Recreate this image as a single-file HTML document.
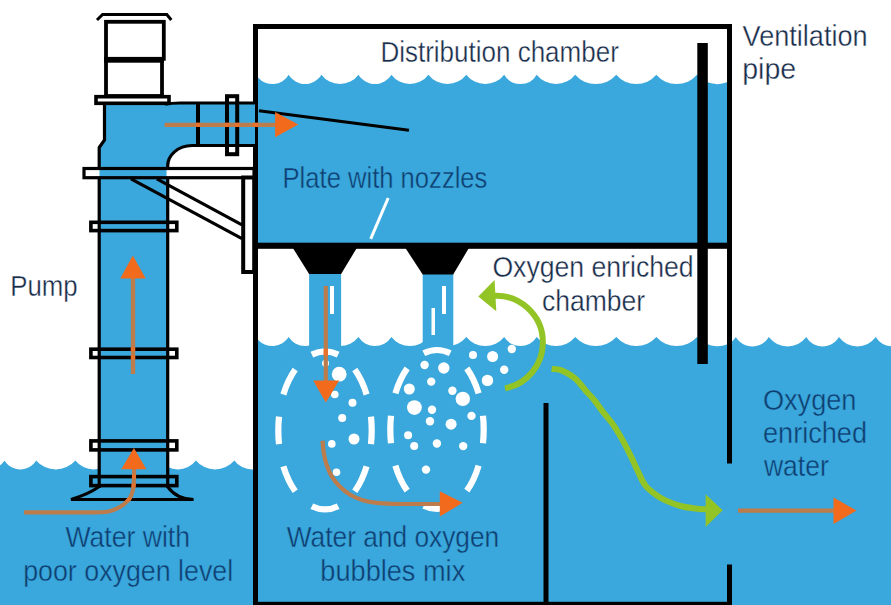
<!DOCTYPE html>
<html><head><meta charset="utf-8"><style>
html,body{margin:0;padding:0;background:#fff;}
svg{display:block;}
text{font-family:"Liberation Sans",sans-serif;}
</style></head><body>
<svg width="891" height="605" viewBox="0 0 891 605">
<rect x="0" y="0" width="891" height="605" fill="#fff"/>
<path d="M258,243 L258.00,77.51 A18.92,18.92 0 0 0 288.70,74.70 A18.92,18.92 0 0 0 321.40,74.70 A23.00,23.00 0 0 0 358.50,74.70 A19.09,19.09 0 0 0 391.40,74.70 A22.90,22.90 0 0 0 428.40,74.70 A23.80,23.80 0 0 0 466.30,74.70 A23.80,23.80 0 0 0 504.20,74.70 A18.75,18.75 0 0 0 536.70,74.70 A24.41,24.41 0 0 0 575.20,74.70 A27.16,27.16 0 0 0 616.30,74.70 A25.98,25.98 0 0 0 656.30,74.70 A26.73,26.73 0 0 0 697.00,74.70 A26.73,26.73 0 0 0 727.50,82.10 L727.50,243 Z" fill="#3aa8dc"/>
<path d="M258,605 L258.00,339.73 A19.35,19.35 0 0 0 288.70,337.10 A19.35,19.35 0 0 0 321.40,337.10 A23.62,23.62 0 0 0 358.50,337.10 A19.53,19.53 0 0 0 391.40,337.10 A23.51,23.51 0 0 0 428.40,337.10 A24.45,24.45 0 0 0 466.30,337.10 A24.45,24.45 0 0 0 504.20,337.10 A19.17,19.17 0 0 0 536.70,337.10 A25.09,25.09 0 0 0 575.20,337.10 A27.96,27.96 0 0 0 616.30,337.10 A26.72,26.72 0 0 0 656.30,337.10 A27.51,27.51 0 0 0 697.00,337.10 A27.51,27.51 0 0 0 727.50,344.16 L727.50,605 Z" fill="#3aa8dc"/>
<path d="M727,605 L727.00,344.80 A19.29,19.29 0 0 0 735.80,337.10 A19.29,19.29 0 0 0 768.80,337.10 A23.55,23.55 0 0 0 806.30,337.10 A18.93,18.93 0 0 0 838.90,337.10 A22.95,22.95 0 0 0 875.80,337.10 A19.47,19.47 0 0 0 909.00,337.10 L891.00,605 Z" fill="#3aa8dc"/>
<path d="M0,605 L0.00,465.51 A18.37,18.37 0 0 0 4.50,460.40 A18.37,18.37 0 0 0 36.10,460.40 A25.95,25.95 0 0 0 75.40,460.40 A23.10,23.10 0 0 0 112.00,460.40 A19.62,19.62 0 0 0 145.00,460.40 A7.62,7.62 0 0 0 160.00,460.40 A22.40,22.40 0 0 0 195.90,460.40 A24.98,24.98 0 0 0 234.30,460.40 A22.20,22.20 0 0 0 270.00,460.40 L255.00,605 Z" fill="#3aa8dc"/>
<rect x="309.1" y="273" width="32" height="80" fill="#3aa8dc"/>
<rect x="422.7" y="273" width="30.6" height="80" fill="#3aa8dc"/>
<rect x="330" y="286" width="4" height="28" fill="#fff"/>
<rect x="442" y="286" width="4" height="28" fill="#fff"/>
<rect x="431.5" y="308" width="3.5" height="27" fill="#fff"/>
<rect x="255" y="242.7" width="475" height="6.1" fill="#000"/>
<polygon points="292.9,248 356.8,248 341.1,273.9 309.1,273.9" fill="#000"/>
<polygon points="405.4,248 468.9,248 453.2,274.5 422.7,274.5" fill="#000"/>
<rect x="253" y="24" width="479" height="5" fill="#000"/>
<rect x="253" y="24" width="5" height="581" fill="#000"/>
<rect x="727" y="24" width="5" height="439.5" fill="#000"/>
<rect x="727" y="564.5" width="5" height="41" fill="#000"/>
<rect x="253" y="601.8" width="479" height="4" fill="#000"/>
<rect x="543.5" y="403" width="5" height="202" fill="#000"/>
<rect x="697.3" y="43" width="10.5" height="321" fill="#000"/>
<line x1="259" y1="110.8" x2="409" y2="130.3" stroke="#000" stroke-width="3"/>
<line x1="388.2" y1="198" x2="370.7" y2="238.8" stroke="#fff" stroke-width="3"/>
<polyline points="97,20 102.6,14.5 166.8,14.5 171.3,20" fill="none" stroke="#000" stroke-width="3"/>
<rect x="106" y="21.8" width="57.8" height="37" fill="none" stroke="#000" stroke-width="3.8"/>
<rect x="106" y="60" width="56" height="36" fill="none" stroke="#000" stroke-width="3.8"/>
<rect x="104" y="57.2" width="60" height="5.5" fill="#000"/>
<path d="M104.5,104 L104.5,140 L99.2,147.5 L99.2,488 L167.7,488 L167.7,167 A24.4,20.6 0 0 1 192,145.5 L255,145.5 L255,103 L180,103 Q170,103 165,104.5 Z" fill="#3aa8dc"/>
<path d="M104.5,104 L104.5,140 L99.2,147.5 L99.2,488" fill="none" stroke="#000" stroke-width="3.2"/>
<path d="M167.7,488 L167.7,167 A24.4,20.6 0 0 1 192,145.5 L255,145.5" fill="none" stroke="#000" stroke-width="3.2"/>
<path d="M165,104.5 Q170,103 180,103 L255,103" fill="none" stroke="#000" stroke-width="2.8"/>
<rect x="196" y="103" width="4" height="42.5" fill="#000"/>
<rect x="227" y="96.2" width="10.2" height="58" fill="none" stroke="#000" stroke-width="4"/>
<rect x="96" y="96.7" width="73" height="6.6" fill="#fff" stroke="#000" stroke-width="3.6"/>
<rect x="84" y="168.5" width="170" height="9.2" fill="#fff"/>
<rect x="99.5" y="168.5" width="67" height="9.2" fill="#3aa8dc"/>
<rect x="84" y="168.5" width="170" height="9.2" fill="none" stroke="#000" stroke-width="3.2"/>
<rect x="243.2" y="177.5" width="11" height="94.5" fill="#fff" stroke="#000" stroke-width="4"/>
<line x1="156.8" y1="178.8" x2="242" y2="224.8" stroke="#000" stroke-width="3.2"/>
<line x1="131" y1="178.8" x2="242" y2="238.6" stroke="#000" stroke-width="3.2"/>
<rect x="90.89999999999999" y="222.3" width="85.9" height="8.300000000000006" fill="none" stroke="#000" stroke-width="3.6"/>
<rect x="90.89999999999999" y="349.2" width="85.9" height="8.300000000000034" fill="none" stroke="#000" stroke-width="3.6"/>
<rect x="90.89999999999999" y="440.90000000000003" width="85.9" height="8.999999999999966" fill="none" stroke="#000" stroke-width="3.6"/>
<rect x="90.89999999999999" y="476.6" width="85.9" height="8.999999999999966" fill="none" stroke="#000" stroke-width="3.6"/>
<path d="M98.6,487 Q88.2,494.3 71,499.5 L193.6,499.5 Q177,499.4 167.8,487" fill="none" stroke="#000" stroke-width="3"/>
<ellipse cx="325" cy="430.4" rx="46.7" ry="79" fill="none" stroke="#fff" stroke-width="6.2" pathLength="400" stroke-dasharray="27.5 22.5" stroke-dashoffset="13.75"/>
<ellipse cx="437" cy="429.5" rx="46.7" ry="79.5" fill="none" stroke="#fff" stroke-width="6.2" pathLength="400" stroke-dasharray="27.5 22.5" stroke-dashoffset="13.75"/>
<circle cx="325.5" cy="363.2" r="3.5" fill="#fff"/>
<circle cx="339.2" cy="374.2" r="7.4" fill="#fff"/>
<circle cx="334.8" cy="394.5" r="3.8" fill="#fff"/>
<circle cx="352.5" cy="402.8" r="4" fill="#fff"/>
<circle cx="342.2" cy="418" r="4" fill="#fff"/>
<circle cx="354" cy="439" r="5.5" fill="#fff"/>
<circle cx="331.8" cy="443.9" r="3.8" fill="#fff"/>
<circle cx="336.5" cy="472.2" r="3.8" fill="#fff"/>
<circle cx="424.6" cy="365" r="4.2" fill="#fff"/>
<circle cx="443.8" cy="368" r="5.7" fill="#fff"/>
<circle cx="431.2" cy="381.6" r="4.2" fill="#fff"/>
<circle cx="409.3" cy="389" r="5.5" fill="#fff"/>
<circle cx="452.4" cy="390.8" r="4.2" fill="#fff"/>
<circle cx="462.8" cy="398.9" r="7.2" fill="#fff"/>
<circle cx="414.4" cy="407.6" r="7.4" fill="#fff"/>
<circle cx="432" cy="409.7" r="4.2" fill="#fff"/>
<circle cx="430" cy="421.3" r="4.2" fill="#fff"/>
<circle cx="451.1" cy="424.2" r="5.5" fill="#fff"/>
<circle cx="471.5" cy="415.9" r="4.2" fill="#fff"/>
<circle cx="408.1" cy="435.3" r="4" fill="#fff"/>
<circle cx="414.2" cy="445.9" r="4" fill="#fff"/>
<circle cx="436.9" cy="443.5" r="4.2" fill="#fff"/>
<circle cx="463.2" cy="446.1" r="4.2" fill="#fff"/>
<circle cx="426" cy="469.6" r="4.2" fill="#fff"/>
<circle cx="473" cy="354.9" r="4" fill="#fff"/>
<circle cx="492.6" cy="356.5" r="5.5" fill="#fff"/>
<circle cx="511.8" cy="349" r="4.2" fill="#fff"/>
<circle cx="504.2" cy="369.8" r="4.2" fill="#fff"/>
<circle cx="487.5" cy="380.4" r="5.7" fill="#fff"/>
<line x1="164.6" y1="124.8" x2="277" y2="124.8" stroke="#bd7c4c" stroke-width="4.2"/>
<polygon points="275.1,112 298.3,124.5 275.1,137.2" fill="#f26a1b"/>
<line x1="133" y1="277" x2="133" y2="374" stroke="#bd7c4c" stroke-width="4.3"/>
<polygon points="120.3,278.4 132.8,255.6 145.7,278.4" fill="#f26a1b"/>
<path d="M24.00,512.40 C30.00,512.40 49.00,512.40 60.00,512.40 C71.00,512.40 83.42,512.42 90.00,512.40 C96.58,512.38 96.40,512.47 99.50,512.30 C102.60,512.13 105.72,512.02 108.60,511.40 C111.48,510.78 114.22,509.82 116.80,508.60 C119.38,507.38 122.05,505.68 124.10,504.10 C126.15,502.52 127.73,501.07 129.10,499.10 C130.47,497.13 131.55,494.50 132.30,492.30 C133.05,490.10 133.32,488.48 133.60,485.90 C133.88,483.32 133.93,479.95 134.00,476.80 C134.07,473.65 134.00,468.63 134.00,467.00" fill="none" stroke="#bd7c4c" stroke-width="4.1"/>
<polygon points="121.3,469.3 133.9,448 146.4,469.3" fill="#f26a1b"/>
<line x1="325.8" y1="286" x2="325.8" y2="382" stroke="#bd7c4c" stroke-width="4.2"/>
<polygon points="313.2,380.5 339.2,380.5 325.8,402.5" fill="#f26a1b"/>
<path d="M322.60,440.70 C322.78,442.63 323.07,448.38 323.70,452.30 C324.33,456.22 325.08,460.23 326.40,464.20 C327.72,468.17 329.37,472.38 331.60,476.10 C333.83,479.82 336.70,483.40 339.80,486.50 C342.90,489.60 346.48,492.47 350.20,494.70 C353.92,496.93 357.65,498.53 362.10,499.90 C366.55,501.27 371.70,502.23 376.90,502.90 C382.10,503.57 387.78,503.72 393.30,503.90 C398.82,504.08 401.88,503.98 410.00,504.00 C418.12,504.02 436.67,504.00 442.00,504.00" fill="none" stroke="#bd7c4c" stroke-width="4.2"/>
<polygon points="439.8,491.3 462.6,502.8 439.8,516.6" fill="#f26a1b"/>
<line x1="738" y1="510.6" x2="835" y2="510.6" stroke="#bd7c4c" stroke-width="4.2"/>
<polygon points="833.5,497.6 856.6,510.6 833.5,524" fill="#f26a1b"/>
<path d="M505.07,388.38 A46.74,46.74 0 0 0 542.89,342.50 A46.74,46.74 0 0 0 491.26,296.02" fill="none" stroke="#92c425" stroke-width="6"/>
<polygon points="494.6,279.9 478.3,296.4 496.3,311.3" fill="#92c425"/>
<path d="M551.60,369.00 C553.25,369.23 557.63,368.88 561.50,370.40 C565.37,371.92 570.72,374.67 574.80,378.10 C578.88,381.53 582.70,387.27 586.00,391.00 C589.30,394.73 591.82,397.07 594.60,400.50 C597.38,403.93 599.80,407.83 602.70,411.60 C605.60,415.37 609.20,419.25 612.00,423.10 C614.80,426.95 617.18,430.83 619.50,434.70 C621.82,438.57 623.87,442.43 625.90,446.30 C627.93,450.17 629.77,453.87 631.70,457.90 C633.63,461.93 635.25,465.93 637.50,470.50 C639.75,475.07 642.23,481.33 645.20,485.30 C648.17,489.27 651.93,491.78 655.30,494.30 C658.67,496.82 661.20,498.45 665.40,500.40 C669.60,502.35 675.45,504.65 680.50,506.00 C685.55,507.35 691.28,507.92 695.70,508.50 C700.12,509.08 705.12,509.33 707.00,509.50" fill="none" stroke="#92c425" stroke-width="6"/>
<polygon points="705.6,494.3 722.7,510.3 705.6,527.1" fill="#92c425"/>
<defs><clipPath id="c1"><rect x="195.8" y="110" width="4.4" height="30"/><rect x="224.8" y="110" width="4.6" height="30"/><rect x="234.8" y="110" width="4.6" height="30"/><rect x="252.8" y="110" width="5.4" height="30"/></clipPath><clipPath id="c2"><rect x="120" y="347.2" width="30" height="4.2"/><rect x="120" y="355.3" width="30" height="4.2"/></clipPath><clipPath id="c3"><rect x="89" y="474.6" width="100" height="4"/><rect x="89" y="483.6" width="100" height="4"/><rect x="89" y="497.9" width="100" height="3.4"/></clipPath><clipPath id="c4"><rect x="315" y="349" width="20" height="7"/></clipPath></defs>
<line x1="164.6" y1="124.8" x2="277" y2="124.8" stroke="#e8722c" stroke-width="4.2" clip-path="url(#c1)"/>
<line x1="133" y1="277" x2="133" y2="374" stroke="#e8722c" stroke-width="4.3" clip-path="url(#c2)"/>
<path d="M24.00,512.40 C30.00,512.40 49.00,512.40 60.00,512.40 C71.00,512.40 83.42,512.42 90.00,512.40 C96.58,512.38 96.40,512.47 99.50,512.30 C102.60,512.13 105.72,512.02 108.60,511.40 C111.48,510.78 114.22,509.82 116.80,508.60 C119.38,507.38 122.05,505.68 124.10,504.10 C126.15,502.52 127.73,501.07 129.10,499.10 C130.47,497.13 131.55,494.50 132.30,492.30 C133.05,490.10 133.32,488.48 133.60,485.90 C133.88,483.32 133.93,479.95 134.00,476.80 C134.07,473.65 134.00,468.63 134.00,467.00" fill="none" stroke="#e8722c" stroke-width="4.1" clip-path="url(#c3)"/>
<line x1="325.8" y1="286" x2="325.8" y2="382" stroke="#e8722c" stroke-width="4.2" clip-path="url(#c4)"/>
<text x="380.38" y="61.6" font-size="29" fill="#172c4a" stroke="#fff" stroke-width="0.35" textLength="238.43" lengthAdjust="spacingAndGlyphs">Distribution chamber</text>
<text x="742.58" y="45.6" font-size="29" fill="#172c4a" stroke="#fff" stroke-width="0.35" textLength="125.06" lengthAdjust="spacingAndGlyphs">Ventilation</text>
<text x="742.20" y="79.3" font-size="29" fill="#172c4a" stroke="#fff" stroke-width="0.35" textLength="53.94" lengthAdjust="spacingAndGlyphs">pipe</text>
<text x="282.56" y="187.9" font-size="29" fill="#0f3f72" stroke="#3aa8dc" stroke-width="0.4" textLength="204.86" lengthAdjust="spacingAndGlyphs">Plate with nozzles</text>
<text x="10.25" y="295.6" font-size="29" fill="#172c4a" stroke="#fff" stroke-width="0.35" textLength="67.43" lengthAdjust="spacingAndGlyphs">Pump</text>
<text x="492.38" y="277.2" font-size="29" fill="#172c4a" stroke="#fff" stroke-width="0.35" textLength="201.25" lengthAdjust="spacingAndGlyphs">Oxygen enriched</text>
<text x="541.98" y="310.5" font-size="29" fill="#172c4a" stroke="#fff" stroke-width="0.35" textLength="103.23" lengthAdjust="spacingAndGlyphs">chamber</text>
<text x="762.91" y="409.5" font-size="29" fill="#0f3f72" stroke="#3aa8dc" stroke-width="0.4" textLength="93.56" lengthAdjust="spacingAndGlyphs">Oxygen</text>
<text x="762.94" y="443.3" font-size="29" fill="#0f3f72" stroke="#3aa8dc" stroke-width="0.4" textLength="104.13" lengthAdjust="spacingAndGlyphs">enriched</text>
<text x="763.97" y="476.4" font-size="29" fill="#0f3f72" stroke="#3aa8dc" stroke-width="0.4" textLength="64.86" lengthAdjust="spacingAndGlyphs">water</text>
<text x="286.78" y="547.1" font-size="29" fill="#0f3f72" stroke="#3aa8dc" stroke-width="0.4" textLength="212.46" lengthAdjust="spacingAndGlyphs">Water and oxygen</text>
<text x="320.34" y="580.7" font-size="29" fill="#0f3f72" stroke="#3aa8dc" stroke-width="0.4" textLength="144.88" lengthAdjust="spacingAndGlyphs">bubbles mix</text>
<text x="65.39" y="547.1" font-size="29" fill="#0f3f72" stroke="#3aa8dc" stroke-width="0.4" textLength="124.65" lengthAdjust="spacingAndGlyphs">Water with</text>
<text x="23.17" y="581.2" font-size="29" fill="#0f3f72" stroke="#3aa8dc" stroke-width="0.4" textLength="210.08" lengthAdjust="spacingAndGlyphs">poor oxygen level</text>
</svg>
</body></html>
